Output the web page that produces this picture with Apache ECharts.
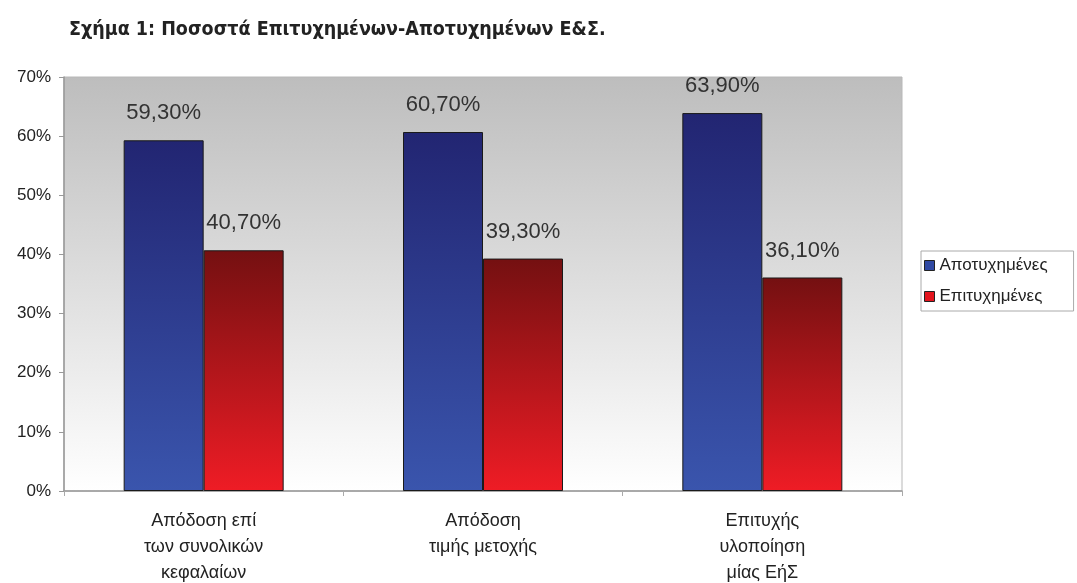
<!DOCTYPE html>
<html>
<head>
<meta charset="utf-8">
<script src="https://cdn.jsdelivr.net/npm/echarts@6/dist/echarts.min.js"></script>
<style>
html,body{margin:0;padding:0;background:#fff;}
#c{width:1077px;height:583px;}
</style>
</head>
<body>
<div id="c"></div>
<script>
const titleText = 'Σχήμα 1: Ποσοστά Επιτυχημένων-Αποτυχημένων Ε&Σ.';
const categories = ['Απόδοση επί\nτων συνολικών\nκεφαλαίων', 'Απόδοση\nτιμής μετοχής', 'Επιτυχής\nυλοποίηση\nμίας ΕήΣ'];
const seriesNames = ['Αποτυχημένες', 'Επιτυχημένες'];
const failedValues = [59.3, 60.7, 63.9];
const successValues = [40.7, 39.3, 36.1];
const yTicks = [0, 10, 20, 30, 40, 50, 60, 70];

const chart = echarts.init(document.getElementById('c'), null, {renderer: 'canvas'});
const fmt = p => p.value.toFixed(2).replace('.', ',') + '%';
const grad = (top, bottom) => new echarts.graphic.LinearGradient(0, 0, 0, 1, [
  {offset: 0, color: top}, {offset: 1, color: bottom}
]);
const labelStyle = {
  show: true, position: 'top', distance: 16, formatter: fmt,
  fontFamily: 'Liberation Sans, Arial, sans-serif', fontSize: 22, color: '#333'
};
chart.setOption({
  animation: false,
  title: {
    text: titleText, left: 64, top: 15,
    textStyle: {fontFamily: '"DejaVu Sans Condensed", sans-serif', fontWeight: 'bold', fontSize: 19.5, color: '#222'}
  },
  legend: {
    orient: 'vertical', left: 921, top: 251,
    itemWidth: 10, itemHeight: 10, itemGap: 14,
    padding: [6, 26, 6, 3],
    borderColor: '#aaa', borderWidth: 1,
    textStyle: {fontFamily: 'Liberation Sans, Arial, sans-serif', fontSize: 17, color: '#222'},
    data: [
      {name: seriesNames[0], icon: 'rect', itemStyle: {color: '#3049a3', borderColor: '#222', borderWidth: 1}},
      {name: seriesNames[1], icon: 'rect', itemStyle: {color: '#e3141d', borderColor: '#222', borderWidth: 1}}
    ]
  },
  grid: {
    left: 64, right: 175, top: 77, bottom: 92,
    outerBoundsMode: 'none', containLabel: false,
    show: true, borderColor: '#b8b8b8', borderWidth: 1,
    backgroundColor: grad('#bdbdbd', '#ffffff')
  },
  xAxis: {
    type: 'category', data: categories,
    axisLine: {lineStyle: {color: '#999', width: 1.5}},
    axisTick: {show: true, length: 5, lineStyle: {color: '#aaa'}},
    axisLabel: {
      margin: 17, lineHeight: 26,
      fontFamily: 'Liberation Sans, Arial, sans-serif', fontSize: 18, color: '#222'
    }
  },
  yAxis: {
    type: 'value', min: yTicks[0], max: yTicks[yTicks.length - 1], interval: 10,
    splitLine: {show: false},
    axisLine: {show: true, lineStyle: {color: '#999', width: 1.5}},
    axisTick: {show: true, length: 5, lineStyle: {color: '#999'}},
    axisLabel: {
      formatter: '{value}%', margin: 13,
      fontFamily: 'Liberation Sans, Arial, sans-serif', fontSize: 17, color: '#222'
    }
  },
  series: [
    {
      name: seriesNames[0], type: 'bar', data: failedValues,
      barWidth: 80, barGap: '0%', barCategoryGap: '43%',
      itemStyle: {color: grad('#222572', '#3a55ad'), borderColor: '#1a1a1a', borderWidth: 1},
      label: labelStyle
    },
    {
      name: seriesNames[1], type: 'bar', data: successValues,
      barWidth: 80, barGap: '0%',
      itemStyle: {color: grad('#741011', '#ef1c25'), borderColor: '#1a1a1a', borderWidth: 1},
      label: labelStyle
    }
  ]
});
</script>
</body>
</html>
